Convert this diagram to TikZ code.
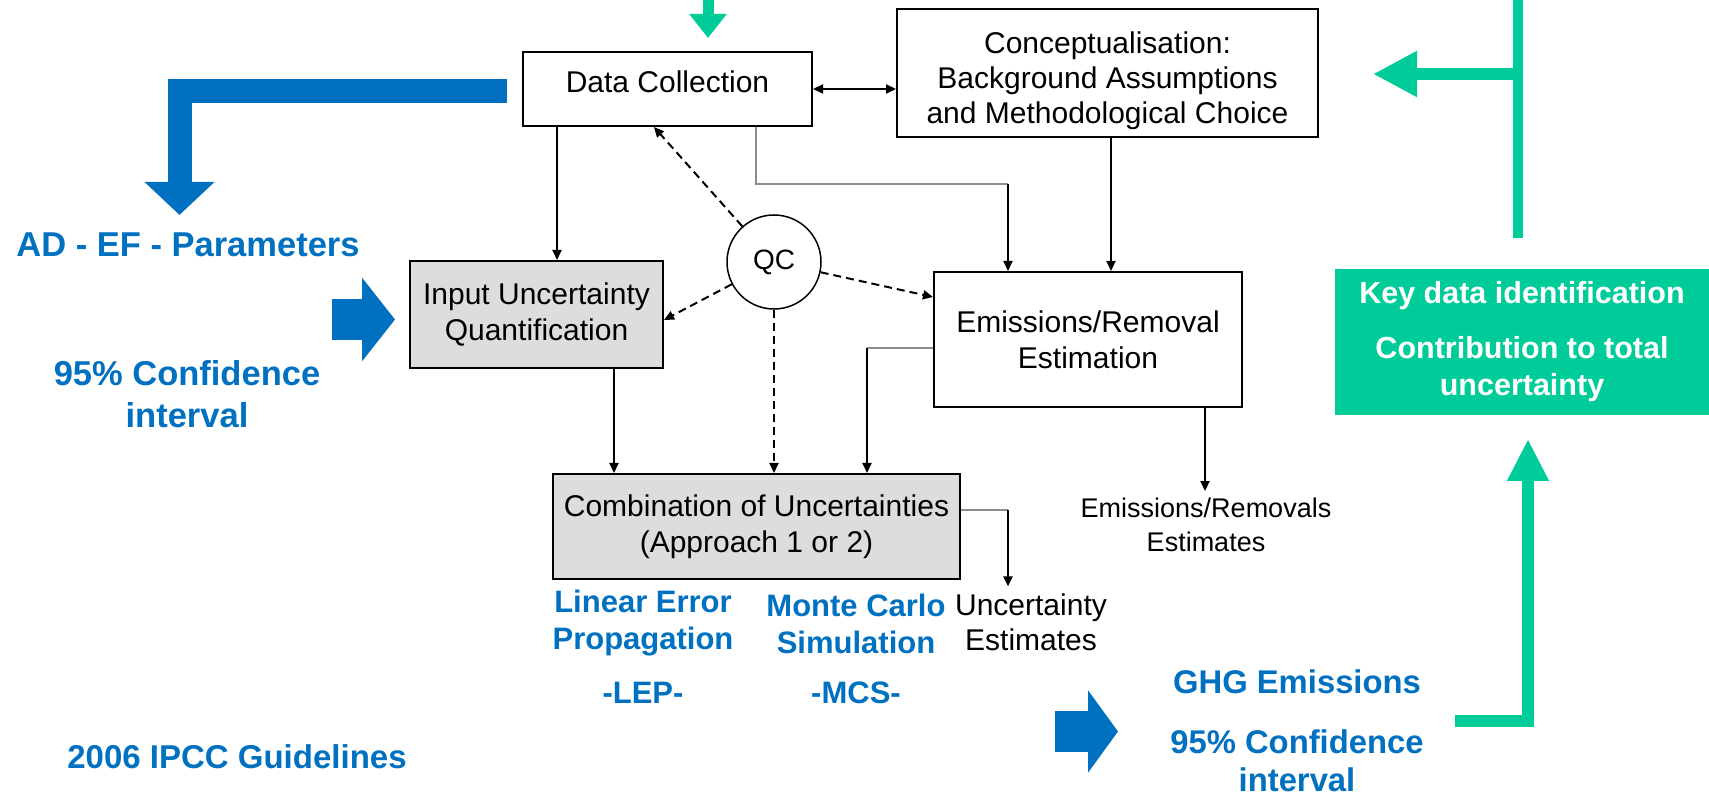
\documentclass[tikz,border=0pt]{standalone}
\usepackage{fontspec}
\setmainfont{Liberation Sans}
\usetikzlibrary{arrows.meta}

\definecolor{ipccblue}{HTML}{0070C0}
\definecolor{ipccgreen}{HTML}{00CC99}
\definecolor{boxgrey}{HTML}{DDDDDD}
\definecolor{linegrey}{HTML}{8C8C8C}

\tikzset{
    box/.style={draw, line width=1pt, align=center, inner sep=0pt,
        font=\fontsize{15}{18}\selectfont},
    greybox/.style={box, fill=boxgrey},
    plain/.style={align=center, font=\fontsize{15}{17.5}\selectfont},
    bluetext/.style={align=center, text=ipccblue,
        font=\bfseries\fontsize{15.5}{18.5}\selectfont},
    arr/.style={line width=1pt, -{Triangle[length=5pt, width=4.5pt]}},
    dblarr/.style={line width=1pt,
        {Triangle[length=5pt, width=4.5pt]}-{Triangle[length=5pt, width=4.5pt]}},
    qcarr/.style={arr, dash pattern=on 4pt off 2.5pt},
    greyline/.style={line width=0.8pt, draw=linegrey},
    fat/.style n args={3}{line width=#1, -{Triangle[length=#2, width=#3]}},
}

\begin{document}
\begin{tikzpicture}[x=0.5pt, y=-0.5pt]
    \useasboundingbox (0,0) rectangle (1709,796);
    \fill[white] (0,0) rectangle (1709,796);

    % flow chart
    \node[box, minimum width=144.5pt, minimum height=37pt, text depth=7pt]
        (datacoll) at (667.5,89) {Data Collection};
    \node[box, minimum width=210.5pt, minimum height=64pt, font=\fontsize{15}{17.5}\selectfont,
        text height=54pt, text depth=3.2pt]
        (concept) at (1107.5,73)
        {Conceptualisation:\\Background Assumptions\\and Methodological Choice};
    \node[greybox, minimum width=126.5pt, minimum height=53.5pt]
        (inputunc) at (536.5,314.5) {Input Uncertainty\\Quantification};
    \node[draw, circle, line width=0.75pt, minimum size=47pt, inner sep=0pt,
        font=\fontsize{14}{16}\selectfont] (qc) at (774,262) {QC};
    \node[box, minimum width=154pt, minimum height=67.5pt]
        (emisest) at (1088,339.5) {Emissions/Removal\\Estimation};
    \node[greybox, minimum width=203.5pt, minimum height=52.5pt]
        (combunc) at (756.5,526.5) {Combination of Uncertainties\\(Approach 1 or 2)};
    \node[plain, font=\fontsize{13.5}{17}\selectfont] (emisout) at (1206,525)
        {Emissions/Removals\\Estimates};
    \node[plain] (uncout) at (1031,622) {Uncertainty\\Estimates};

    \draw[dblarr] (datacoll.east) -- (datacoll.east -| concept.west);
    \draw[arr] ([xshift=17.5pt]datacoll.south west) coordinate (dcl)
        -- (dcl |- inputunc.north);
    \coordinate (bendA) at (1008,184);
    \draw[greyline] ([xshift=117pt]datacoll.south west) |- (bendA);
    \draw[arr] (bendA) -- (bendA |- emisest.north);
    \draw[arr] ([xshift=1.75pt]concept.south) coordinate (cs) -- (cs |- emisest.north);

    \draw[qcarr] (qc) -- ([xshift=-6.75pt]datacoll.south);
    \draw[qcarr] (qc) -- ([yshift=-2.75pt]inputunc.east);
    \draw[qcarr] (qc) -- ([yshift=-13pt]emisest.north west);
    \draw[qcarr] (qc) -- (qc |- combunc.north);

    \draw[arr] ([xshift=102.5pt]inputunc.south west) coordinate (iul)
        -- (iul |- combunc.north);
    \coordinate (bendB) at (867,348);
    \draw[greyline] (emisest.west |- bendB) -- (bendB);
    \draw[arr] (bendB) -- (bendB |- combunc.north);
    \draw[arr] ([xshift=-19pt]emisest.south east) coordinate (ese)
        -- (ese |- emisout.north);
    \coordinate (bendC) at (1008,510);
    \draw[greyline] (combunc.east |- bendC) -- (bendC);
    \draw[arr] (bendC) -- (bendC |- uncout.north);

    % blue notes
    \node[bluetext] (linerr) at (643,623.5) {Linear Error\\Propagation};
    \node[bluetext] (montec) at (856,623.5) {Monte Carlo\\Simulation};
    \node[bluetext] (lep) at (643,693) {-LEP-};
    \node[bluetext] (mcs) at (856,693) {-MCS-};
    \node[bluetext, font=\bfseries\fontsize{17.25}{21}\selectfont]
        (adef) at (188,245) {AD - EF - Parameters};
    \node[bluetext, font=\bfseries\fontsize{17.25}{21}\selectfont]
        (leftci) at (187,394) {95\% Confidence\\interval};
    \node[bluetext, font=\bfseries\fontsize{16.4}{19}\selectfont]
        (ghg) at (1297,682) {GHG Emissions};
    \node[bluetext, font=\bfseries\fontsize{16.4}{19}\selectfont]
        (ghgci) at (1297,761) {95\% Confidence\\interval};
    \node[bluetext, font=\bfseries\fontsize{16.5}{19}\selectfont]
        (guide) at (237,757) {2006 IPCC Guidelines};

    \node[fill=ipccgreen, text=white, align=center, inner sep=0pt,
        minimum width=187pt, minimum height=73pt,
        font=\bfseries\fontsize{15.25}{18.5}\selectfont] (keydata) at (1522,342)
        {Key data identification\\[9pt]Contribution to total\\uncertainty};

    % block arrows
    \draw[ipccgreen, fat={5.5pt}{12pt}{18pt}] (708,0) -- (708,38);
    \draw[ipccgreen, line width=5pt] (1518,0) -- (1518,238);
    \draw[ipccgreen, fat={6pt}{22pt}{21.5pt}] (1518,74) -- (1373,74);
    \draw[ipccgreen, fat={6pt}{21pt}{19.5pt}] (1455,721) -- (1528,721) -- (1528,439);
    \draw[ipccblue, fat={12pt}{16.5pt}{34pt}] (507,91) -- (179.5,91) -- (179.5,215);
    \draw[ipccblue, fat={20.5pt}{16.5pt}{41pt}] (332,319.5) -- (395,319.5);
    \draw[ipccblue, fat={20.5pt}{15pt}{40.5pt}] (1055,731.5) -- (1118,731.5);
\end{tikzpicture}
\end{document}
